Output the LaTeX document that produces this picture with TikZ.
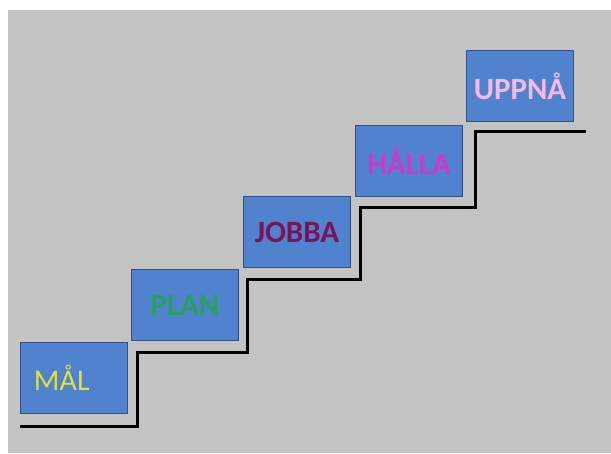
\documentclass[tikz,border=0pt]{standalone}
\usepackage{fontspec}
\setmainfont{Carlito}
\definecolor{bggray}{RGB}{195,195,195}
\definecolor{boxblue}{RGB}{80,130,205}
\definecolor{boxedge}{RGB}{50,80,135}
\definecolor{malcol}{RGB}{225,225,60}
\definecolor{plancol}{RGB}{40,160,95}
\definecolor{jobbacol}{RGB}{120,20,90}
\definecolor{hallacol}{RGB}{200,60,200}
\definecolor{uppnacol}{RGB}{245,185,230}
\tikzset{
  stepbox/.style={draw=boxedge, line width=1.5pt, fill=boxblue,
    minimum width=107pt, minimum height=71pt, inner sep=0pt,
    font=\fontsize{31}{31}\selectfont\bfseries},
  stair/.style={line width=3pt, line join=miter}
}
\begin{document}
\begin{tikzpicture}[x=1pt,y=-1pt]
  \useasboundingbox (0,0) rectangle (611,453);
  % gray background
  \fill[bggray] (8,10) rectangle (611,453);
  % the staircase
  \draw[stair] (20,426) -- (137,426) -- (137,352) -- (247,352) -- (247,279)
    -- (360,279) -- (360,207) -- (475,207) -- (475,131) -- (586,131);
  % one box on each step
  \node[stepbox, text=malcol, font=\fontsize{30}{30}\selectfont,
    text width=80pt, align=left] (mal) at (74,378) {MÅL};
  \node[stepbox, text=plancol] (plan) at (185,305) {PLAN};
  \node[stepbox, text=jobbacol] (jobba) at (297,232) {JOBBA};
  \node[stepbox, text=hallacol] (halla) at (409,161) {HÅLLA};
  \node[stepbox, text=uppnacol] (uppna) at (520,86) {UPPNÅ};
\end{tikzpicture}
\end{document}
